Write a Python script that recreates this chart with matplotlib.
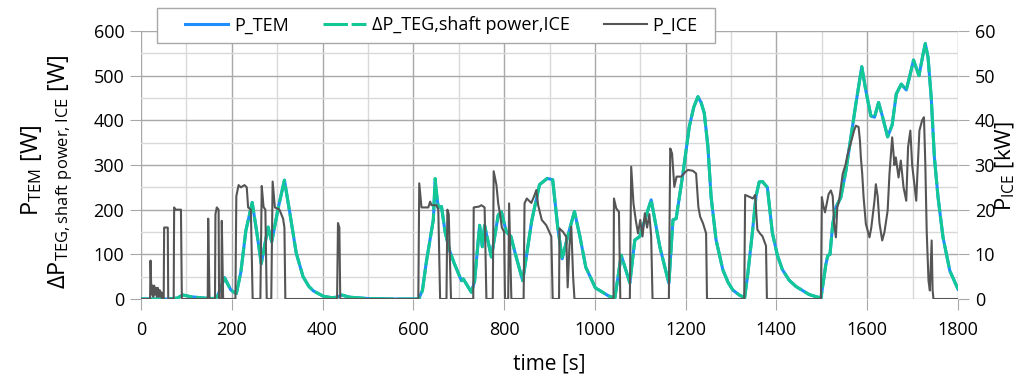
#!/usr/bin/env python

import matplotlib
matplotlib.use('Agg')
import matplotlib.pyplot as plt
from matplotlib.patches import Rectangle
from matplotlib.ticker import MultipleLocator

plt.rcParams['font.family'] = ['Open Sans', 'DejaVu Sans']

# P_TEM [W] and delta P_TEG [W]
t_tem = [0, 60, 80, 92, 110, 140, 160, 168, 184, 198, 210, 220, 231, 245, 255,
         265, 280, 288, 303, 316, 328, 342, 357, 370, 380, 402, 420, 432, 442,
         460, 500, 560, 612, 620, 629, 644, 648, 651, 655, 662, 670, 680, 690,
         706, 710, 728, 735, 746, 752, 757, 772, 787, 794, 805, 815, 825, 841,
         861, 878, 895, 907, 918, 928, 940, 955, 967, 980, 1001, 1030, 1044,
         1058, 1077, 1088, 1099, 1110, 1124, 1143, 1163, 1172, 1179, 1194,
         1208, 1218, 1227, 1234, 1241, 1249, 1256, 1267, 1282, 1294, 1304,
         1318, 1330, 1337, 1347, 1355, 1362, 1369, 1380, 1391, 1402, 1413,
         1428, 1443, 1472, 1498, 1509, 1513, 1518, 1524, 1531, 1542, 1553,
         1564, 1575, 1588, 1597, 1608, 1616, 1625, 1634, 1645, 1655, 1664,
         1675, 1686, 1693, 1702, 1714, 1723, 1728, 1734, 1741, 1748, 1756,
         1767, 1782, 1800]
p_tem = [0, 0, 2, 9, 5, 2, 1, 5, 48, 20, 12, 60, 153, 216, 150,
         79, 161, 128, 207, 266, 192, 103, 50, 28, 18, 6, 3, 4, 9,
         4, 1, 0, 0, 20, 86, 177, 262, 235, 205, 207, 150, 108, 80,
         41, 45, 15, 40, 165, 117, 165, 94, 188, 195, 150, 140, 100, 41,
         176, 256, 270, 267, 162, 90, 140, 196, 140, 71, 25, 7, 2,
         98, 36, 132, 140, 177, 222, 117, 35, 177, 180, 281,
         386, 430, 453, 440, 416, 341, 229, 132, 65, 36, 20,
         9, 3, 57, 149, 230, 262, 263, 250, 148, 98, 66,
         42, 28, 10, 2, 78, 97, 100, 168, 205, 228, 287,
         362, 437, 520, 466, 410, 407, 440, 407, 363, 390, 459,
         481, 468, 496, 535, 500, 548, 572, 541, 451, 317, 228,
         138, 63, 22]
p_teg = [0, 0, 2, 9, 5, 2, 1, 5, 47, 20, 12, 60, 153, 216, 150,
         79, 161, 128, 207, 266, 192, 103, 50, 28, 18, 6, 3, 4, 9,
         4, 1, 0, 0, 18, 84, 177, 270, 240, 205, 207, 150, 108, 80,
         41, 45, 15, 40, 165, 117, 165, 94, 188, 195, 150, 140, 100, 41,
         176, 256, 270, 267, 162, 90, 140, 196, 140, 71, 25, 7, 2,
         98, 36, 132, 140, 177, 222, 117, 35, 177, 180, 281,
         386, 430, 453, 440, 416, 341, 229, 132, 65, 36, 20,
         9, 3, 57, 149, 230, 262, 263, 250, 148, 98, 66,
         42, 28, 10, 2, 78, 97, 100, 168, 205, 228, 287,
         362, 437, 520, 466, 410, 407, 440, 407, 363, 390, 459,
         481, 468, 496, 535, 500, 548, 572, 541, 451, 317, 228,
         138, 63, 22]

# P_ICE [kW]
t_ice = [0, 20, 21, 23, 25, 27, 29, 31, 33, 35, 37, 39, 41, 43, 45, 47,
         50, 51, 59, 60, 72, 73, 76, 88, 90, 147, 148, 151, 163, 164, 167,
         171, 172, 177, 178, 181, 208, 210, 215, 220, 228, 233, 236, 242,
         246, 263, 266, 270, 274, 277, 287, 290, 295, 305, 313, 316, 318,
         432, 434, 437, 439, 611, 613, 618, 633, 637, 640, 651, 655, 659,
         673, 675, 678, 683, 732, 733, 745, 750, 757, 761, 775, 777, 783,
         787, 791, 795, 800, 802, 809, 811, 813, 816, 843, 845, 850, 860,
         866, 871, 875, 883, 893, 904, 907, 921, 922, 930, 937, 940, 944,
         948, 952, 955, 1041, 1042, 1047, 1053, 1056, 1077, 1080, 1085,
         1090, 1095, 1100, 1105, 1110, 1115, 1120, 1124, 1127, 1163, 1166,
         1170, 1175, 1180, 1190, 1200, 1205, 1216, 1223, 1228, 1232, 1238,
         1245, 1247, 1329, 1331, 1340, 1348, 1353, 1358, 1365, 1369, 1377,
         1379, 1498, 1500, 1503, 1507, 1515, 1520, 1524, 1527, 1531, 1534,
         1538, 1546, 1552, 1557, 1564, 1571, 1575, 1581, 1584, 1586, 1589,
         1592, 1597, 1605, 1609, 1616, 1619, 1623, 1627, 1633, 1638, 1645,
         1649, 1655, 1660, 1663, 1669, 1674, 1680, 1686, 1690, 1695, 1699,
         1708, 1711, 1715, 1721, 1725, 1728, 1731, 1735, 1738, 1742, 1744,
         1746, 1800]
p_ice = [0, 0, 8.6, 1, 3, 0.5, 3, 1, 2.5, 0.5, 2.5, 0.5, 2, 0.5, 1.5, 0,
         0, 16, 16, 0, 0, 20.5, 20, 20, 0, 0, 18, 0, 0, 19, 20.5,
         20, 0, 0, 17.5, 0, 0, 23, 25.5, 25, 25.5, 25, 20.5, 20,
         0, 0, 25.3, 20.6, 20, 0, 0, 26.3, 20.5, 20, 18, 16, 0,
         0, 17, 16, 0, 0, 25.9, 20.5, 20.5, 21.8, 21, 21, 20, 0,
         0, 20, 19, 0, 0, 20.5, 20.7, 21, 20.5, 0, 0, 28.6, 25.6,
         21.4, 19, 16, 15, 0, 0, 21.4, 13, 0, 0, 21.4, 22.5, 21.5,
         23, 24.4, 21, 17.7, 16.5, 14, 0, 0, 15.8, 15, 13.9, 2.6, 12,
         16.2, 5, 0, 0, 22.5, 20.3, 19.5, 0, 0, 29.6, 21.4,
         17.7, 14.7, 17.7, 14, 19.2, 16, 19, 14, 0, 0, 33.7,
         32.6, 25.1, 27.4, 27.4, 28.5, 28.9, 28.7, 28.1, 20.6, 18.4, 17,
         14.7, 0, 0, 23.3, 22.9, 22.5, 23.3, 15.5, 14.5, 14.1, 11.9,
         0, 0, 22.8, 21, 19.4, 23.5, 24.3, 23, 16.8, 13.8, 20.5,
         22, 28, 30, 32.5, 35, 37.7, 38.8, 38.5, 35.4, 31.7, 28,
         22.8, 16.8, 13.8, 16, 22, 25.7, 23, 17, 13.1, 15, 19.8,
         28, 36.2, 30, 31.7, 27.2, 31, 25, 22, 34, 37.7, 30,
         22, 29, 37.7, 40, 40.7, 30.2, 15.3, 4.1, 1.9, 13.1, 2,
         0, 0]

W, H = 1035, 382
fig = plt.figure(figsize=(W / 100, H / 100), dpi=100)
ax = fig.add_axes([141 / W, 1 - 299 / H, 817 / W, 268 / H])

l1, = ax.plot(t_tem, p_tem, color='#1f8fff', lw=2.2, label='P_TEM', zorder=3)
l2, = ax.plot(t_tem, p_teg, color='#14c896', lw=2.2, dashes=(8, 1.2),
              label='ΔP_TEG,shaft power,ICE', zorder=4)

ax.set_xlim(0, 1800)
ax.set_ylim(0, 600)
ax.xaxis.set_major_locator(MultipleLocator(200))
ax.xaxis.set_minor_locator(MultipleLocator(100))
ax.yaxis.set_major_locator(MultipleLocator(100))
ax.yaxis.set_minor_locator(MultipleLocator(50))
ax.grid(which='major', color='#a8a8a8', lw=1.0)
ax.grid(which='minor', color='#d9d9d9', lw=1.0)
ax.set_axisbelow(True)
for s in ax.spines.values():
    s.set_visible(False)
ax.tick_params(which='major', direction='out', length=8, color='#a8a8a8',
               labelsize=13, pad=4)
ax.tick_params(axis='x', which='major', pad=8)
ax.tick_params(which='minor', length=0)

ax2 = ax.twinx()
l3, = ax2.plot(t_ice, p_ice, color='#555555', lw=1.5, label='P_ICE')
ax2.set_ylim(0, 60)
ax2.yaxis.set_major_locator(MultipleLocator(10))
for s in ax2.spines.values():
    s.set_visible(False)
ax2.tick_params(direction='out', length=8, color='#a8a8a8', labelsize=13,
                pad=4)

ax.set_xlabel('time [s]', fontsize=15, labelpad=10)
fig.text(31 / W, 1 - 170 / H, 'P$\\mathregular{_{TEM}}$ [W]',
         rotation=90, ha='center', va='center', fontsize=17)
fig.text(61 / W, 1 - 172 / H,
         'ΔP$\\mathregular{_{TEG,shaft\\ power,ICE}}$ [W]',
         rotation=90, ha='center', va='center', fontsize=17)
fig.text(1005 / W, 1 - 166 / H, 'P$\\mathregular{_{ICE}}$ [kW]',
         rotation=90, ha='center', va='center', fontsize=16)

# legend box drawn on its own, legend entries placed inside it
fig.patches.append(Rectangle((157 / W, 1 - 43 / H), 558 / W, 35 / H,
                             transform=fig.transFigure, facecolor='white',
                             edgecolor='#a8a8a8', lw=1.0, zorder=4))
leg = fig.legend(handles=[l1, l2, l3], loc='center left',
                 bbox_to_anchor=(185 / W, 1 - 25.5 / H), ncol=3,
                 fontsize=13, frameon=False, borderaxespad=0, borderpad=0,
                 handlelength=2.4, handletextpad=0.3, columnspacing=1.9)
leg.set_zorder(5)

plt.savefig('out.png', dpi=100)
